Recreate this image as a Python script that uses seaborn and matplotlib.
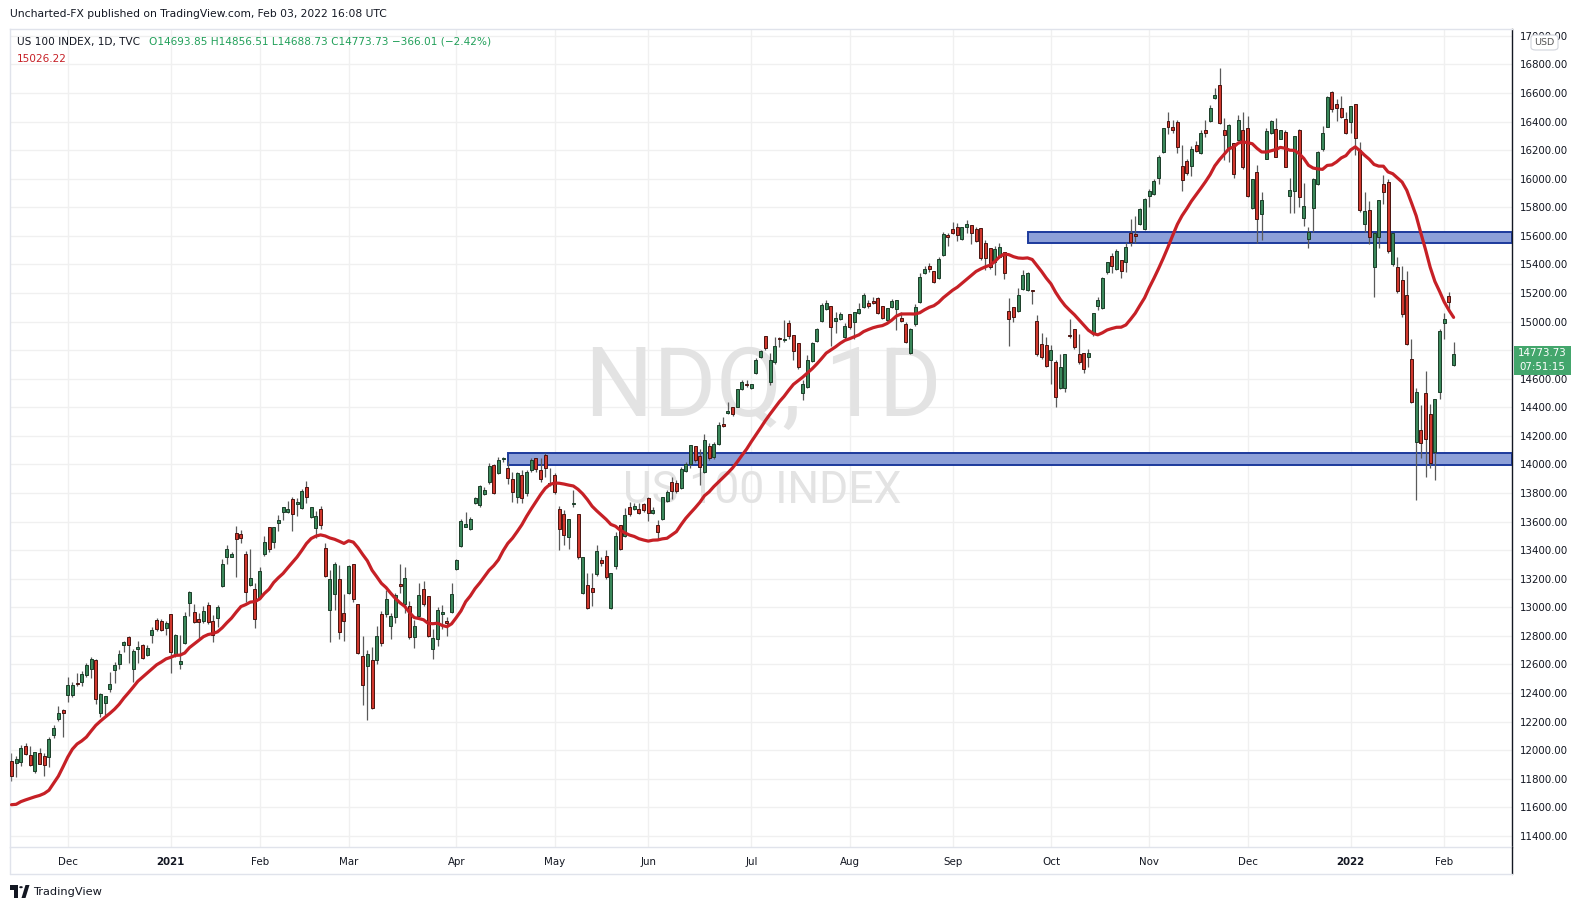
import numpy as np
import pandas as pd
import matplotlib
matplotlib.use("Agg")
import matplotlib.pyplot as plt
import seaborn as sns
from matplotlib.patches import Rectangle, FancyBboxPatch, Polygon, Circle
from matplotlib.lines import Line2D

sns.set_style("white")
plt.rcParams['font.family'] = ['DejaVu Sans']

# ---------------- data (daily bars, 12 Nov 2020 -> 03 Feb 2022) ----------------
opens = [
 11922, 11908, 11919, 12029, 11966, 11856, 11978, 11959, 11950, 12108,
 12220, 12281, 12384, 12388, 12470, 12479, 12524, 12570, 12631, 12262,
 12328, 12426, 12563, 12605, 12738, 12790, 12570, 12711, 12734, 12668,
 12808, 12909, 12902, 12853, 12951, 12664, 12601, 12748, 13032, 12965,
 12916, 12906, 13014, 12902, 12923, 13149, 13354, 13354, 13518, 13511,
 13371, 13158, 13126, 13067, 13371, 13560, 13455, 13592, 13669, 13667,
 13756, 13725, 13697, 13840, 13634, 13557, 13688, 13413, 12983, 13093,
 13198, 12958, 13102, 13301, 13021, 12659, 12592, 12631, 12631, 12953,
 12953, 12871, 12934, 13163, 13025, 13009, 12790, 12941, 13126, 13079,
 12706, 12776, 12951, 12904, 12970, 13270, 13429, 13564, 13548, 13732,
 13714, 13795, 13875, 13996, 13938, 14036, 13973, 13896, 13770, 13924,
 13798, 13959, 14047, 13959, 14066, 13861, 13924, 13688, 13653, 13490,
 13720, 13651, 13103, 13154, 13133, 13235, 13329, 13359, 12997, 13291,
 13574, 13499, 13700, 13690, 13686, 13723, 13763, 13658, 13576, 13621,
 13746, 13875, 13868, 13837, 13956, 14003, 14129, 14059, 13949, 14131,
 14054, 14141, 14283, 14362, 14400, 14404, 14526, 14563, 14533, 14638,
 14754, 14899, 14579, 14715, 14885, 14871, 14988, 14906, 14848, 14500,
 14540, 14726, 14866, 15006, 15090, 15109, 15006, 15020, 14890, 15053,
 14999, 15062, 15104, 15128, 15144, 15163, 15109, 15011, 15104, 15088,
 15023, 14983, 14778, 14983, 15139, 15342, 15389, 15354, 15307, 15466,
 15606, 15646, 15660, 15578, 15664, 15674, 15646, 15653, 15548, 15513,
 15419, 15454, 15485, 15074, 15100, 15076, 15228, 15221, 15216, 15006,
 14841, 14834, 14731, 14715, 14538, 14533, 14906, 14946, 14771, 14778,
 14755, 14913, 15112, 15093, 15349, 15459, 15368, 15431, 15419, 15618,
 15613, 15681, 15646, 15881, 15891, 16007, 16190, 16404, 16360, 16395,
 16091, 16122, 16089, 16234, 16178, 16341, 16406, 16563, 16656, 16341,
 16213, 16248, 16271, 16341, 16353, 15797, 16045, 15751, 16140, 16318,
 16346, 16280, 16327, 15881, 15914, 16341, 15723, 15576, 15797, 15963,
 16208, 16364, 16609, 16521, 16493, 16416, 16399, 16521, 16201, 15681,
 15781, 15385, 15590, 15963, 15975, 15401, 15380, 15291, 15184, 14736,
 14160, 14242, 14498, 14351, 14090, 14510, 14990, 15180, 14693.85]

highs = [
 11978, 11961, 12034, 12048, 12029, 11990, 12015, 11978, 12094, 12176,
 12309, 12285, 12510, 12477, 12538, 12554, 12612, 12655, 12640, 12400,
 12380, 12547, 12619, 12701, 12762, 12799, 12710, 12764, 12743, 12734,
 12860, 12925, 12916, 12906, 12955, 12810, 12806, 12967, 13114, 13025,
 12960, 13011, 13037, 12946, 13014, 13338, 13436, 13385, 13569, 13541,
 13394, 13408, 13168, 13282, 13499, 13565, 13565, 13646, 13700, 13742,
 13774, 13767, 13826, 13884, 13700, 13676, 13709, 13448, 13261, 13317,
 13296, 13093, 13294, 13301, 13021, 12799, 12699, 12720, 12869, 12976,
 13121, 12958, 13102, 13303, 13285, 13046, 12911, 13170, 13186, 13079,
 12848, 13000, 13016, 12934, 13170, 13338, 13620, 13667, 13630, 13774,
 13858, 13844, 14008, 14000, 14050, 14050, 14026, 13949, 13949, 13961,
 13961, 14043, 14047, 14043, 14078, 13973, 13938, 13709, 13681, 13616,
 13821, 13651, 13352, 13238, 13238, 13434, 13354, 13401, 13240, 13527,
 13574, 13693, 13740, 13728, 13728, 13730, 13774, 13700, 13611, 13774,
 13821, 13914, 13891, 13984, 14019, 14136, 14129, 14106, 14213, 14148,
 14160, 14299, 14334, 14439, 14400, 14528, 14591, 14591, 14565, 14743,
 14801, 14899, 14778, 14894, 14894, 15011, 15011, 14906, 14848, 14590,
 14766, 14860, 14953, 15128, 15151, 15109, 15069, 15069, 14988, 15053,
 15065, 15128, 15198, 15151, 15174, 15174, 15109, 15093, 15156, 15151,
 15069, 15000, 14953, 15120, 15342, 15389, 15408, 15354, 15454, 15627,
 15618, 15699, 15688, 15664, 15711, 15674, 15664, 15653, 15571, 15513,
 15529, 15548, 15485, 15163, 15100, 15233, 15361, 15349, 15216, 15046,
 14918, 14892, 14836, 14731, 14771, 14771, 15016, 14946, 14911, 14778,
 14806, 15062, 15174, 15314, 15419, 15478, 15506, 15431, 15559, 15718,
 15741, 15797, 15863, 15928, 15996, 16166, 16357, 16465, 16411, 16411,
 16236, 16136, 16231, 16264, 16341, 16411, 16516, 16633, 16773, 16423,
 16383, 16248, 16446, 16469, 16439, 15996, 16096, 15905, 16353, 16411,
 16423, 16341, 16341, 16007, 16299, 16346, 15968, 15664, 16003, 16194,
 16369, 16579, 16614, 16558, 16579, 16469, 16509, 16521, 16255, 15907,
 15844, 15629, 15851, 16026, 15998, 15618, 15454, 15389, 15354, 14876,
 14533, 14416, 14654, 14421, 14458, 14946, 15060, 15205, 14856.51]

lows = [
 11787, 11815, 11891, 11966, 11890, 11843, 11900, 11821, 11884, 12087,
 12204, 12094, 12337, 12370, 12449, 12449, 12515, 12505, 12321, 12230,
 12246, 12407, 12472, 12570, 12689, 12610, 12479, 12612, 12640, 12660,
 12752, 12836, 12836, 12806, 12542, 12655, 12570, 12740, 12941, 12890,
 12787, 12890, 12885, 12759, 12864, 13140, 13303, 13350, 13214, 13448,
 13039, 13150, 12853, 13056, 13360, 13390, 13413, 13536, 13611, 13660,
 13536, 13639, 13690, 13732, 13625, 13483, 13546, 13210, 12759, 12981,
 12780, 12764, 13090, 13040, 12670, 12316, 12211, 12290, 12601, 12732,
 12930, 12780, 12892, 13098, 12958, 12780, 12713, 12930, 13010, 12790,
 12636, 12729, 12846, 12802, 12960, 13260, 13424, 13560, 13540, 13720,
 13700, 13785, 13865, 13790, 13930, 14020, 13860, 13739, 13728, 13728,
 13780, 13950, 13950, 13880, 13914, 13850, 13790, 13401, 13436, 13408,
 13700, 13340, 13095, 12988, 13011, 13220, 13290, 13200, 12990, 13270,
 13400, 13490, 13640, 13680, 13650, 13670, 13606, 13650, 13471, 13610,
 13740, 13756, 13800, 13830, 13950, 13973, 14020, 13856, 13940, 14030,
 14040, 14135, 14265, 14355, 14340, 14400, 14520, 14545, 14525, 14630,
 14745, 14800, 14556, 14705, 14824, 14860, 14880, 14731, 14670, 14450,
 14533, 14715, 14860, 15000, 15080, 14829, 14918, 15010, 14880, 14950,
 14878, 15050, 15095, 15093, 15125, 15050, 15015, 15005, 15095, 14941,
 15000, 14848, 14770, 14970, 15130, 15333, 15350, 15272, 15300, 15460,
 15529, 15610, 15566, 15570, 15622, 15541, 15555, 15430, 15361, 15370,
 15326, 15445, 15298, 14831, 15000, 15070, 15220, 15215, 15121, 14760,
 14736, 14680, 14563, 14400, 14530, 14510, 14883, 14810, 14700, 14643,
 14685, 14900, 15081, 15085, 15333, 15342, 15360, 15303, 15349, 15531,
 15548, 15675, 15640, 15800, 15885, 15961, 16182, 16313, 16322, 16182,
 15916, 16025, 16021, 16190, 16171, 16290, 16400, 16555, 16380, 16131,
 16119, 16003, 16265, 16070, 15870, 15786, 15552, 15571, 16135, 16310,
 16150, 16275, 16080, 15758, 15758, 15805, 15669, 15517, 15625, 15955,
 16194, 16360, 16469, 16406, 16423, 16310, 16318, 16166, 15770, 15625,
 15543, 15175, 15513, 15823, 15478, 15390, 15198, 15035, 14836, 14430,
 13751, 14043, 13915, 13978, 13891, 14456, 14880, 15070, 14688.73]

closes = [
 11821, 11936, 12013, 11973, 11894, 11985, 11905, 11898, 12076, 12155,
 12258, 12262, 12454, 12454, 12465, 12533, 12594, 12636, 12360, 12395,
 12377, 12461, 12596, 12671, 12757, 12738, 12694, 12720, 12648, 12713,
 12839, 12846, 12843, 12888, 12689, 12806, 12624, 12939, 13105, 12900,
 12895, 12974, 12899, 12804, 13002, 13301, 13406, 13371, 13480, 13487,
 13109, 13203, 12920, 13252, 13455, 13406, 13562, 13609, 13700, 13686,
 13655, 13737, 13814, 13774, 13700, 13639, 13578, 13221, 13198, 13303,
 12829, 12904, 13289, 13060, 12682, 12458, 12673, 12293, 12799, 12752,
 13058, 12941, 13086, 13151, 13205, 12790, 12869, 13086, 13021, 12797,
 12783, 12979, 12967, 12892, 13093, 13329, 13604, 13581, 13616, 13763,
 13849, 13819, 13989, 13802, 14031, 14043, 13907, 13809, 13938, 13763,
 13945, 14029, 13966, 13900, 13973, 13868, 13809, 13546, 13504, 13616,
 13723, 13354, 13352, 12997, 13107, 13392, 13312, 13214, 13238, 13497,
 13410, 13644, 13653, 13709, 13658, 13681, 13658, 13681, 13530, 13770,
 13809, 13812, 13816, 13966, 14001, 14136, 14031, 13984, 14171, 14047,
 14143, 14276, 14271, 14374, 14351, 14528, 14575, 14554, 14561, 14731,
 14794, 14813, 14731, 14829, 14880, 14880, 14901, 14796, 14684, 14560,
 14731, 14848, 14946, 15116, 15128, 14960, 15023, 15051, 14969, 14964,
 15065, 15086, 15186, 15111, 15132, 15058, 15023, 15093, 15144, 15151,
 15006, 14859, 14946, 15100, 15314, 15366, 15370, 15279, 15436, 15611,
 15590, 15618, 15606, 15660, 15683, 15622, 15564, 15443, 15443, 15384,
 15506, 15520, 15338, 15016, 15030, 15184, 15324, 15338, 15212, 14771,
 14754, 14692, 14801, 14475, 14682, 14771, 14899, 14824, 14715, 14666,
 14778, 15062, 15151, 15303, 15419, 15391, 15494, 15356, 15524, 15559,
 15601, 15788, 15858, 15914, 15984, 16150, 16353, 16364, 16341, 16224,
 15989, 16038, 16206, 16196, 16318, 16318, 16493, 16586, 16388, 16308,
 16376, 16031, 16411, 16080, 15879, 15996, 15716, 15851, 16334, 16404,
 16154, 16341, 16085, 15921, 16299, 15870, 15809, 15629, 15996, 16189,
 16318, 16574, 16490, 16497, 16434, 16322, 16509, 16287, 15779, 15774,
 15595, 15622, 15851, 15909, 15496, 15618, 15217, 15051, 14843, 14440,
 14510, 14153, 14176, 14008, 14458, 14934, 15020, 15140, 14773.73]

# closes of the 19 sessions before the first visible bar (for the 20-day SMA)
pre_closes = [11880, 11640, 11730, 11680, 11760, 11720, 11620, 11620, 11180, 11280,
              10950, 11100, 11330, 11740, 12100, 12050, 11800, 11560, 11800]

month_ticks = [12, 34, 53, 72, 95, 116, 136, 158, 179, 201, 222, 243, 264, 286, 306]
month_labels = ["Dec", "2021", "Feb", "Mar", "Apr", "May", "Jun", "Jul", "Aug",
                "Sep", "Oct", "Nov", "Dec", "2022", "Feb"]
price_ticks = list(range(11400, 17001, 200))

# support / resistance zones: (start bar, low, high)
zone_starts = [217.1, 106.1]
zone_lows = [15548, 13998]
zone_highs = [15625, 14078]

last_price = "14773.73"
countdown = "07:51:15"
ma_last = "15026.22"

# ---------------- figure ----------------
W, H = 1586, 910
fig = plt.figure(figsize=(W / 100, H / 100), dpi=100)
fig.patch.set_facecolor("white")

def fx(px):
    return px / W

def fy(py):
    return 1 - py / H

ax_left, ax_right, ax_top, ax_bot = 10, 1512, 29, 847
ax = fig.add_axes([fx(ax_left), fy(ax_bot), fx(ax_right) - fx(ax_left), fy(ax_top) - fy(ax_bot)])
ax.set_facecolor("white")

x = np.arange(len(closes))
o = np.array(opens, float)
h = np.array(highs, float)
l = np.array(lows, float)
c = np.array(closes, float)
up = c >= o

XMIN, XMAX = -0.32, 320.47
YMIN, YMAX = 11322, 17048
ax.set_xlim(XMIN, XMAX)
ax.set_ylim(YMIN, YMAX)

# grid
for p in price_ticks:
    ax.axhline(p, color="#f0f0f0", lw=1.0, zorder=0.2)
for t in month_ticks:
    ax.axvline(t, color="#f0f0f0", lw=1.0, zorder=0.2)

# watermark
ax.text(fx(763), fy(390), "NDQ, 1D", transform=fig.transFigure, ha="center", va="center",
        fontsize=69, color="#e3e3e3", family="Roboto", zorder=0.3)
ax.text(fx(762), fy(491), "US 100 INDEX", transform=fig.transFigure, ha="center", va="center",
        fontsize=32, color="#e3e3e3", family="Roboto", zorder=0.3)

# zones
for s, lo, hi in zip(zone_starts, zone_lows, zone_highs):
    ax.add_patch(Rectangle((s, lo), XMAX - s, hi - lo, facecolor="#8da0d8",
                           edgecolor="#1c3a9c", linewidth=1.4, zorder=1))

# candles
ax.vlines(x, l, h, color="#5a5a5a", linewidth=0.9, zorder=2)
bottom = np.minimum(o, c)
height = np.maximum(np.abs(c - o), 7)
ax.bar(x[up], height[up], bottom=bottom[up], width=0.64, color="#3a875a",
       edgecolor="#1b3d28", linewidth=0.7, zorder=3)
ax.bar(x[~up], height[~up], bottom=bottom[~up], width=0.64, color="#d0372d",
       edgecolor="#4a1410", linewidth=0.7, zorder=3)

# 20-day SMA
allc = pd.Series(pre_closes + closes, dtype=float)
ma = allc.rolling(20).mean().iloc[len(pre_closes):].to_numpy()
ma_df = pd.DataFrame({"bar": x, "ma": ma})
sns.lineplot(data=ma_df, x="bar", y="ma", ax=ax, color="#c62026", linewidth=2.3,
             zorder=4, legend=False)

# axes styling
ax.set_xlabel("")
ax.set_ylabel("")
ax.yaxis.tick_right()
ax.set_yticks(price_ticks)
ax.set_yticklabels([f"{p:.2f}" for p in price_ticks], fontsize=7.4, color="#131722")
ax.tick_params(axis="y", length=0, pad=6)
ax.set_xticks(month_ticks)
ax.set_xticklabels(month_labels, fontsize=7.4, color="#131722")
for lab in ax.get_xticklabels():
    if lab.get_text() in ("2021", "2022"):
        lab.set_fontweight("bold")
ax.tick_params(axis="x", length=0, pad=7)
for s in ("left", "top", "bottom"):
    ax.spines[s].set_color("#e0e3eb")
    ax.spines[s].set_linewidth(1.0)
ax.spines["right"].set_color("#131722")
ax.spines["right"].set_linewidth(1.0)

# extra frame lines
fig.add_artist(Line2D([fx(ax_right), fx(ax_right)], [fy(ax_bot), fy(874)], color="#131722", lw=1.0))
fig.add_artist(Line2D([fx(ax_left), fx(ax_right)], [fy(874), fy(874)], color="#e0e3eb", lw=1.0))
fig.add_artist(Line2D([fx(ax_left), fx(ax_left)], [fy(ax_bot), fy(874)], color="#e0e3eb", lw=1.0))

# header texts
fig.text(fx(10), fy(14), "Uncharted-FX published on TradingView.com, Feb 03, 2022 16:08 UTC",
         fontsize=7.75, color="#131722", va="center", ha="left")
fig.text(fx(17), fy(41.5), "US 100 INDEX, 1D, TVC", fontsize=7.6, color="#131722",
         va="center", ha="left")
fig.text(fx(149), fy(41.5), "O14693.85 H14856.51 L14688.73 C14773.73 \u2212366.01 (\u22122.42%)",
         fontsize=7.6, color="#22a05a", va="center", ha="left")
fig.text(fx(17), fy(58.7), ma_last, fontsize=7.6, color="#c62026", va="center", ha="left")

# USD badge
fig.add_artist(FancyBboxPatch((fx(1531), fy(50)), fx(27), fy(35) - fy(50),
                              boxstyle="round,pad=0.0,rounding_size=0.003",
                              facecolor="white", edgecolor="#d1d4dc", lw=0.8))
fig.text(fx(1544.5), fy(42.5), "USD", fontsize=6.8, color="#555555", ha="center", va="center")

# last price label
fig.add_artist(Rectangle((fx(1514), fy(375)), fx(57), fy(346) - fy(375),
                         facecolor="#43a66c", edgecolor="none"))
fig.text(fx(1542.5), fy(353), last_price, fontsize=7.4, color="white", ha="center", va="center")
fig.text(fx(1542.5), fy(367), countdown, fontsize=7.4, color="white", ha="center", va="center")

# TradingView logo
fig.add_artist(Rectangle((fx(10), fy(889.5)), fx(8), fy(885) - fy(889.5), facecolor="#131722", edgecolor="none"))
fig.add_artist(Rectangle((fx(14), fy(898)), fx(4), fy(889.5) - fy(898), facecolor="#131722", edgecolor="none"))
fig.add_artist(Circle((fx(21), fy(887.2)), 1.8 / W, facecolor="#131722", edgecolor="none"))
fig.add_artist(Polygon([(fx(21.5), fy(898)), (fx(25.5), fy(885)), (fx(29.5), fy(885)), (fx(25.5), fy(898))],
                       closed=True, facecolor="#131722", edgecolor="none"))
fig.text(fx(33), fy(892), "TradingView", fontsize=8.2, color="#131722", ha="left", va="center")

fig.savefig("out.png", dpi=100, facecolor="white")
